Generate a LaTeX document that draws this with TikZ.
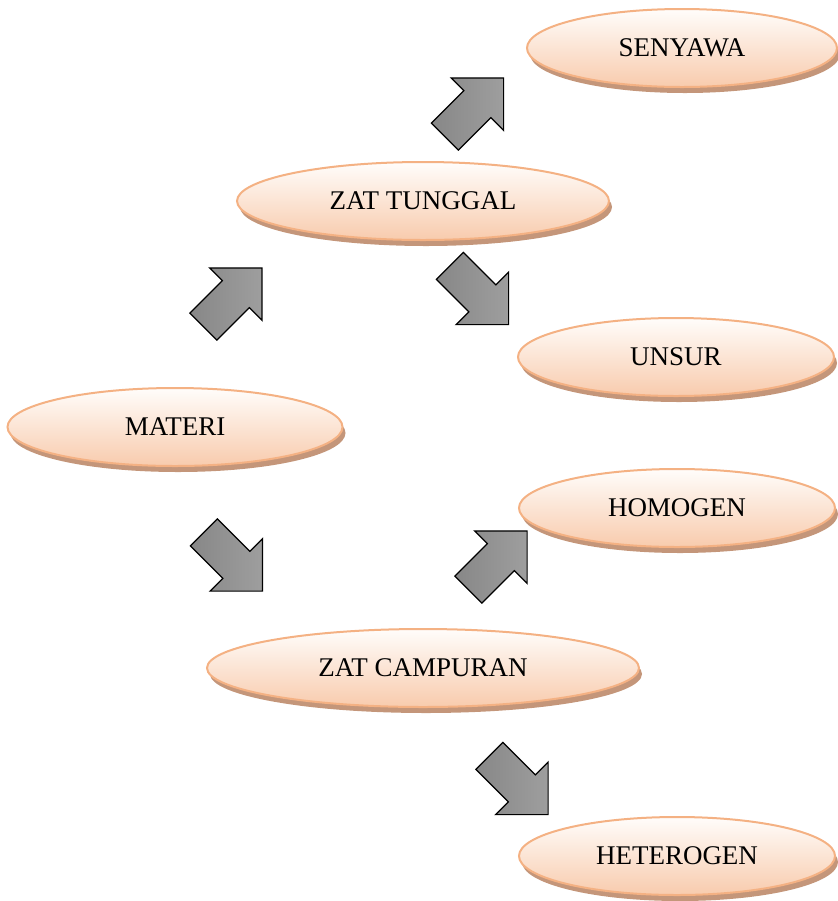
\documentclass[tikz,border=0pt]{standalone}
\usepackage{fontspec}
\setmainfont{Liberation Serif}
\usetikzlibrary{shapes.geometric,shapes.arrows,shadows}
\definecolor{peachline}{RGB}{244,177,131}
\definecolor{peachtop}{RGB}{255,253,251}
\definecolor{peachbot}{RGB}{248,203,173}
\definecolor{peachshadow}{RGB}{196,150,122}

\begin{document}
\begin{tikzpicture}[x=0.5pt,y=-0.5pt,
bubble/.style={ellipse, draw=peachline, line width=1pt, top color=peachtop, bottom color=peachbot, minimum height=39pt, inner sep=0pt, font=\fontsize{13.5}{16}\selectfont, drop shadow={shadow xshift=1.5pt, shadow yshift=-3pt, fill=peachshadow, opacity=1}},
blockarrow/.style={single arrow, draw=black, line width=0.6pt, left color=black!47, right color=black!38, minimum height=41.5pt, inner xsep=0pt, inner ysep=9.25pt, single arrow head extend=9pt, single arrow tip angle=90}
]
    \useasboundingbox (0,0) rectangle (837,901);

    \node [bubble, minimum width=167.5pt] (materi) at (175,427) {MATERI};

    \node [bubble, minimum width=186pt] (tunggal) at (423,201) {ZAT TUNGGAL};
    \node [bubble, minimum width=216pt] (campuran) at (423,668) {ZAT CAMPURAN};

    \node [bubble, minimum width=155pt] (senyawa) at (682,48) {SENYAWA};
    \node [bubble, minimum width=158pt] (unsur) at (676,357) {UNSUR};
    \node [bubble, minimum width=158pt] (homogen) at (677,508) {HOMOGEN};
    \node [bubble, minimum width=158pt] (heterogen) at (677,856) {HETEROGEN};

    \node [blockarrow, rotate=45] (p1) at (226,304) {};
    \node [blockarrow, rotate=-45] (p2) at (226.5,555) {};

    \node [blockarrow, rotate=45] (p3) at (467.5,114) {};
    \node [blockarrow, rotate=-45] (p4) at (472.5,288.5) {};

    \node [blockarrow, rotate=45] (p5) at (491,567) {};
    \node [blockarrow, rotate=-45] (p6) at (512,778.5) {};
\end{tikzpicture}
\end{document}
